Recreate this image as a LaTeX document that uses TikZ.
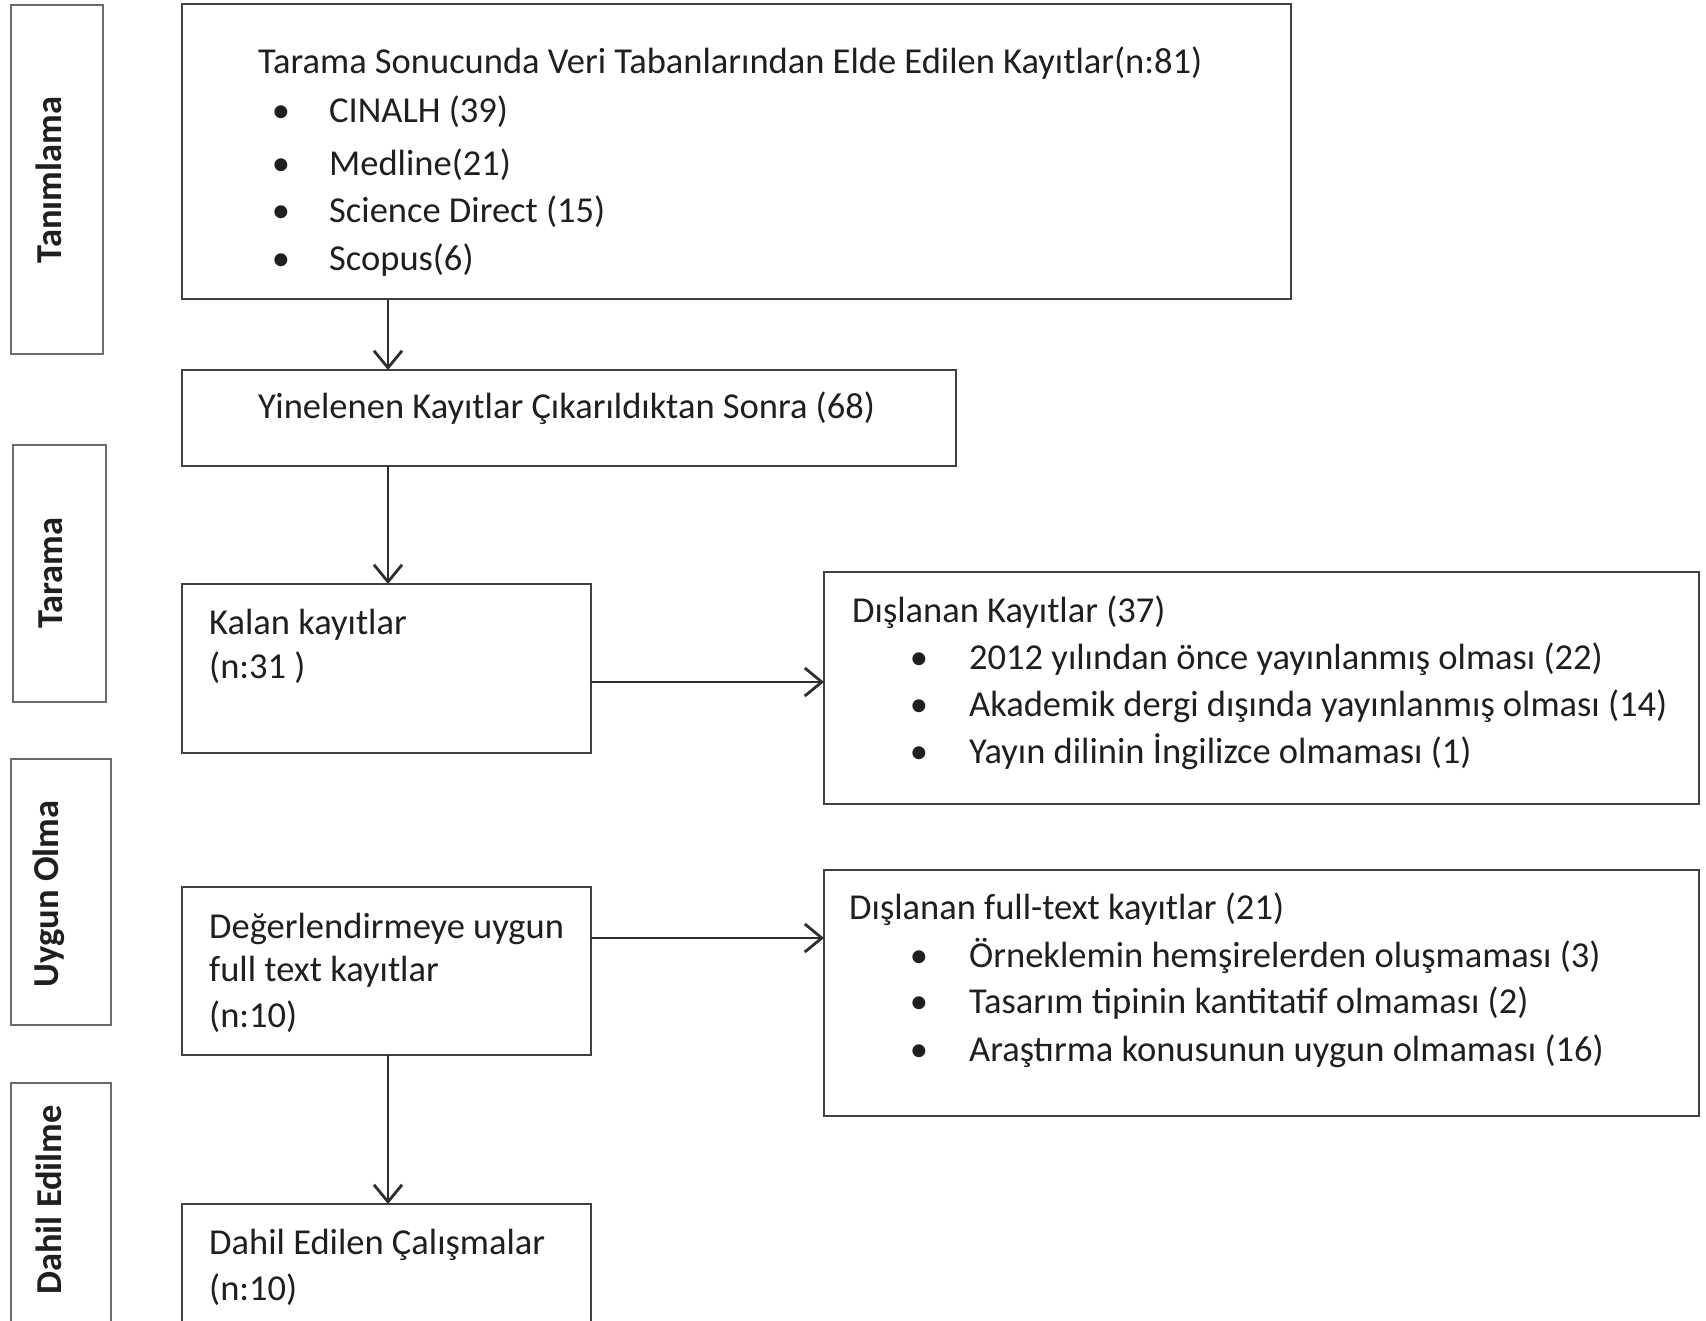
\documentclass[tikz,border=0pt]{standalone}
\usepackage{fontspec}
\setmainfont{Carlito}
\usetikzlibrary{arrows.meta}
\begin{document}
\begin{tikzpicture}[x=1pt,y=-1pt,
  box/.style={draw=black!75,line width=2.6pt,anchor=north west,inner sep=0pt,outer sep=0pt},
  side/.style={draw=black!58,line width=2.6pt,anchor=north west,inner sep=0pt,outer sep=0pt},
  txt/.style={anchor=base west,inner sep=0pt,text=black!88,font=\fontsize{36.5}{44}\selectfont},
  bul/.style={anchor=base,inner sep=0pt,text=black!88,font=\fontsize{36.5}{44}\selectfont},
  lbl/.style={rotate=90,inner sep=0pt,text=black!88,font=\fontsize{36.5}{44}\selectfont\bfseries},
  arr/.style={draw=black!82,line width=2.8pt,-{Straight Barb[length=17pt,width=28pt,line width=2.8pt]}}
]
\clip (0,0) rectangle (1706,1321);
\fill[white] (0,0) rectangle (1706,1321);

% side boxes
\node[side,minimum width=92pt,minimum height=349pt] (s1) at (11,5) {};
\node[side,minimum width=93pt,minimum height=257pt] (s2) at (13,445) {};
\node[side,minimum width=100pt,minimum height=266pt] (s3) at (11,759) {};
\node[side,minimum width=100pt,minimum height=260pt] (s4) at (11,1083) {};
\node[lbl] (l1) at (49,180) {Tanımlama};
\node[lbl] (l2) at (51,573) {Tarama};
\node[lbl] (l3) at (49,894) {Uygun Olma};
\node[lbl] (l4) at (49,1200) {Dahil Edilme};

% main boxes
\node[box,minimum width=1109pt,minimum height=295pt] (b1) at (182,4) {};
\node[box,minimum width=774pt,minimum height=96pt] (b2) at (182,370) {};
\node[box,minimum width=409pt,minimum height=169pt] (b3) at (182,584) {};
\node[box,minimum width=875pt,minimum height=232pt] (b4) at (824,572) {};
\node[box,minimum width=409pt,minimum height=168pt] (b5) at (182,887) {};
\node[box,minimum width=875pt,minimum height=246pt] (b6) at (824,870) {};
\node[box,minimum width=409pt,minimum height=140pt] (b7) at (182,1204) {};

% texts box 1
\node[txt] (t1) at (258,74) {Tarama Sonucunda Veri Tabanlarından Elde Edilen Kayıtlar(n:81)};
\node[bul] (u11) at (281,123) {•};
\node[txt] (t11) at (329,123) {CINALH (39)};
\node[bul] (u12) at (281,176) {•};
\node[txt] (t12) at (329,176) {Medline(21)};
\node[bul] (u13) at (281,223) {•};
\node[txt] (t13) at (329,223) {Science Direct (15)};
\node[bul] (u14) at (281,271) {•};
\node[txt] (t14) at (329,271) {Scopus(6)};

% box 2
\node[txt] (t2) at (258,419) {Yinelenen Kayıtlar Çıkarıldıktan Sonra (68)};

% box 3
\node[txt] (t3a) at (209,634) {Kalan kayıtlar};
\node[txt] (t3b) at (209,678) {(n:31 )};

% box 4
\node[txt] (t4) at (852,622) {Dışlanan Kayıtlar (37)};
\node[bul] (u41) at (919,669) {•};
\node[txt] (t41) at (969,669) {2012 yılından önce yayınlanmış olması (22)};
\node[bul] (u42) at (919,716) {•};
\node[txt] (t42) at (969,716) {Akademik dergi dışında yayınlanmış olması (14)};
\node[bul] (u43) at (919,763) {•};
\node[txt] (t43) at (969,763) {Yayın dilinin İngilizce olmaması (1)};

% box 5
\node[txt] (t5a) at (209,938) {Değerlendirmeye uygun};
\node[txt] (t5b) at (209,981) {full text kayıtlar};
\node[txt] (t5c) at (209,1027) {(n:10)};

% box 6
\node[txt] (t6) at (849,919) {Dışlanan full-text kayıtlar (21)};
\node[bul] (u61) at (919,967) {•};
\node[txt] (t61) at (969,967) {Örneklemin hemşirelerden oluşmaması (3)};
\node[bul] (u62) at (919,1013) {•};
\node[txt] (t62) at (969,1013) {Tasarım tipinin kantitatif olmaması (2)};
\node[bul] (u63) at (919,1061) {•};
\node[txt] (t63) at (969,1061) {Araştırma konusunun uygun olmaması (16)};

% box 7
\node[txt] (t7a) at (209,1254) {Dahil Edilen Çalışmalar};
\node[txt] (t7b) at (209,1300) {(n:10)};

% arrows
\draw[arr] ([xshift=206pt]b1.south west) -- ([xshift=206pt]b2.north west);
\draw[arr] ([xshift=206pt]b2.south west) -- ([xshift=206pt]b3.north west);
\draw[arr] ([yshift=-13.5pt]b3.east) -- ([yshift=-13.5pt]b3.east -| b4.west);
\draw[arr] ([yshift=33pt]b5.east) -- ([yshift=33pt]b5.east -| b6.west);
\draw[arr] ([xshift=206pt]b5.south west) -- ([xshift=206pt]b7.north west);
\end{tikzpicture}
\end{document}
